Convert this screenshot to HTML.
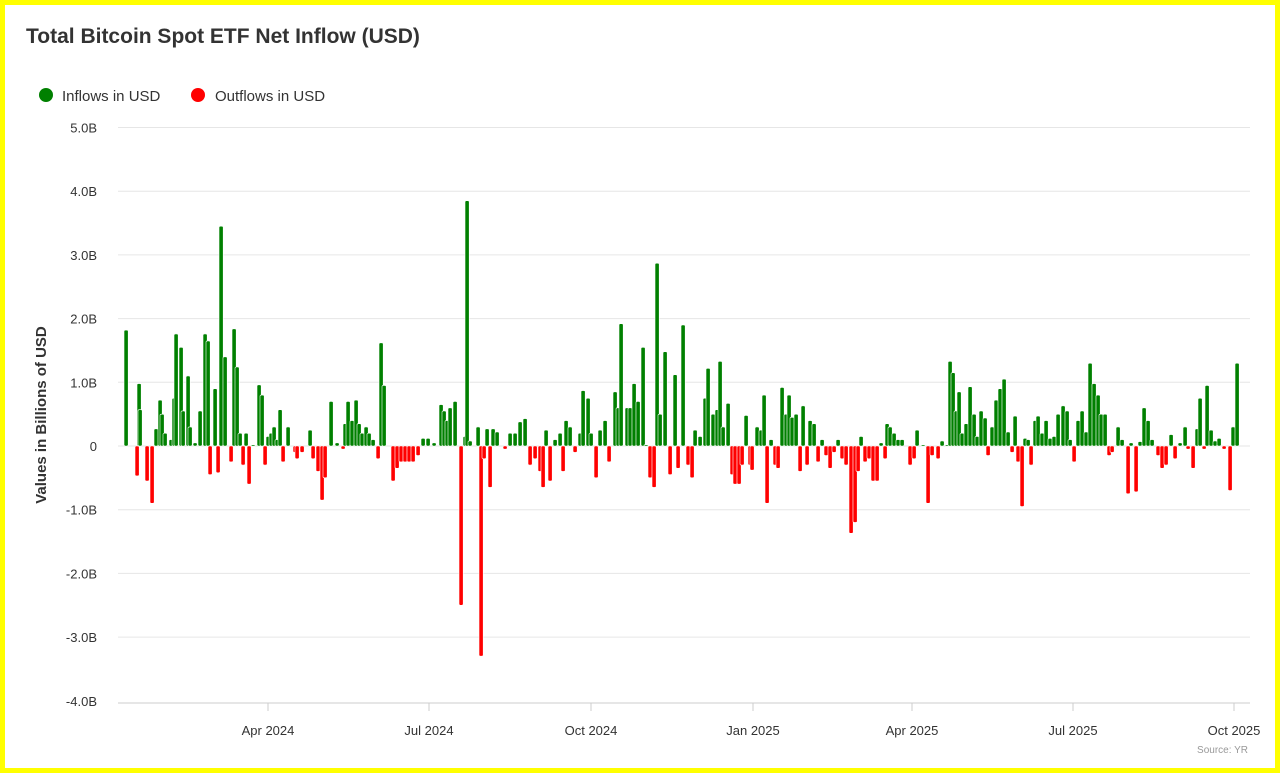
<!DOCTYPE html>
<html><head><meta charset="utf-8"><style>
html,body{margin:0;padding:0;background:#fff;}
body{width:1280px;height:773px;overflow:hidden;font-family:"Liberation Sans",sans-serif;}
.frame{position:absolute;left:0;top:0;width:1270px;height:763px;border:5px solid #ffff00;}
</style></head><body>
<div class="frame"></div>
<svg id="s" width="1280" height="773" style="position:absolute;left:0;top:0" xmlns="http://www.w3.org/2000/svg" font-family="Liberation Sans, sans-serif">
<text x="26" y="43" font-size="21" font-weight="bold" fill="#333">Total Bitcoin Spot ETF Net Inflow (USD)</text>
<circle cx="46" cy="95" r="7" fill="#008000"/>
<text x="62" y="101" font-size="15" fill="#333">Inflows in USD</text>
<circle cx="198" cy="95" r="7" fill="#ff0000"/>
<text x="215" y="101" font-size="15" fill="#333">Outflows in USD</text>
<text transform="translate(46,415) rotate(-90)" text-anchor="middle" font-size="15" font-weight="bold" fill="#333">Values in Billions of USD</text>
<g id="grid"></g><g id="bars"></g>
<line x1="118" y1="703" x2="1250" y2="703" stroke="#ccc"/>
<g font-size="13" fill="#333" text-anchor="middle">
<text x="268" y="735">Apr 2024</text><text x="429" y="735">Jul 2024</text><text x="591" y="735">Oct 2024</text>
<text x="753" y="735">Jan 2025</text><text x="912" y="735">Apr 2025</text><text x="1073" y="735">Jul 2025</text><text x="1234" y="735">Oct 2025</text>
</g>
<g stroke="#ccc"><line x1="268" y1="703" x2="268" y2="711"/><line x1="429" y1="703" x2="429" y2="711"/><line x1="591" y1="703" x2="591" y2="711"/><line x1="753" y1="703" x2="753" y2="711"/><line x1="912" y1="703" x2="912" y2="711"/><line x1="1073" y1="703" x2="1073" y2="711"/><line x1="1234" y1="703" x2="1234" y2="711"/></g>
<text x="1248" y="753" font-size="10" fill="#999" text-anchor="end">Source: YR</text>
</svg>
<script>
var NS="http://www.w3.org/2000/svg";
function el(t,a,p){var e=document.createElementNS(NS,t);for(var k in a)e.setAttribute(k,a[k]);p.appendChild(e);return e;}
var g=document.getElementById('grid'),b=document.getElementById('bars');
function Y(v){return 446-v*63.7;}
for(var v=5;v>=-4;v--){var y=Y(v);if(v>-4)el('line',{x1:118,x2:1250,y1:y,y2:y,stroke:'#e6e6e6'},g);
var t=el('text',{x:97,y:y+5,'font-size':13,fill:'#333','text-anchor':'end'},g);t.textContent=v==0?'0':v.toFixed(1)+'B';}
var d=[126,1.82,137,-0.47,139,0.98,140,0.57,147,-0.55,152,-0.9,156,0.27,160,0.72,162,0.5,165,0.2,171,0.1,174,0.75,176,1.76,181,1.55,183,0.55,188,1.1,190,0.3,195,0.05,200,0.55,205,1.76,208,1.65,210,-0.45,215,0.9,218,-0.42,221,3.45,225,1.4,231,-0.25,234,1.84,237,1.24,240,0.2,243,-0.3,246,0.2,249,-0.6,253,0.02,259,0.96,262,0.8,265,-0.3,268,0.15,271,0.2,274,0.3,277,0.1,280,0.57,283,-0.25,288,0.3,295,-0.1,297,-0.2,302,-0.1,310,0.25,313,-0.2,318,-0.4,322,-0.85,325,-0.5,331,0.7,337,0.05,343,-0.05,345,0.35,348,0.7,352,0.4,356,0.72,359,0.35,362,0.2,366,0.3,369,0.2,373,0.1,378,-0.2,381,1.62,384,0.95,393,-0.55,397,-0.35,401,-0.25,405,-0.25,409,-0.25,413,-0.25,418,-0.15,423,0.12,428,0.12,434,0.05,441,0.65,444,0.55,447,0.4,450,0.6,455,0.7,461,-2.5,465,0.15,467,3.85,470,0.08,478,0.3,481,-3.3,484,-0.2,487,0.27,490,-0.65,493,0.27,497,0.22,505,-0.05,510,0.2,515,0.2,520,0.38,525,0.43,530,-0.3,535,-0.2,540,-0.4,543,-0.65,546,0.25,550,-0.55,555,0.1,560,0.2,563,-0.4,566,0.4,570,0.3,575,-0.1,580,0.2,583,0.87,588,0.75,591,0.2,596,-0.5,600,0.25,605,0.4,609,-0.25,615,0.85,618,0.6,621,1.92,627,0.6,630,0.6,634,0.98,638,0.7,643,1.55,646,0.02,650,-0.5,654,-0.65,657,2.87,660,0.5,665,1.48,670,-0.45,675,1.12,678,-0.35,683,1.9,688,-0.3,692,-0.5,695,0.25,700,0.15,705,0.75,708,1.22,713,0.5,717,0.57,720,1.33,723,0.3,728,0.67,732,-0.45,735,-0.6,739,-0.6,742,-0.3,746,0.48,750,-0.3,752,-0.38,757,0.3,761,0.25,764,0.8,767,-0.9,771,0.1,775,-0.3,778,-0.35,782,0.92,786,0.5,789,0.8,792,0.45,796,0.5,800,-0.4,803,0.63,807,-0.3,810,0.4,814,0.35,818,-0.25,822,0.1,826,-0.15,830,-0.35,834,-0.1,838,0.1,842,-0.2,846,-0.3,851,-1.37,855,-1.2,858,-0.4,861,0.15,865,-0.25,869,-0.2,873,-0.55,877,-0.55,881,0.05,885,-0.2,887,0.35,890,0.3,894,0.2,898,0.1,902,0.1,910,-0.3,914,-0.2,917,0.25,923,0.02,928,-0.9,932,-0.15,938,-0.2,942,0.08,947,0.02,950,1.33,953,1.15,956,0.55,959,0.85,962,0.2,966,0.35,970,0.93,974,0.5,977,0.15,981,0.55,985,0.44,988,-0.15,992,0.3,996,0.72,1000,0.9,1004,1.05,1008,0.22,1012,-0.1,1015,0.47,1018,-0.25,1022,-0.95,1025,0.12,1028,0.1,1031,-0.3,1035,0.4,1038,0.47,1042,0.2,1046,0.4,1050,0.12,1054,0.15,1058,0.5,1063,0.63,1067,0.55,1070,0.1,1074,-0.25,1078,0.4,1082,0.55,1086,0.22,1090,1.3,1094,0.98,1098,0.8,1101,0.5,1105,0.5,1109,-0.15,1112,-0.1,1118,0.3,1122,0.1,1128,-0.75,1131,0.05,1136,-0.72,1140,0.07,1144,0.6,1148,0.4,1152,0.1,1158,-0.15,1162,-0.35,1166,-0.3,1171,0.18,1175,-0.2,1180,0.05,1185,0.3,1188,-0.05,1193,-0.35,1197,0.27,1200,0.75,1204,-0.05,1207,0.95,1211,0.25,1215,0.08,1219,0.12,1224,-0.05,1230,-0.7,1233,0.3,1237,1.3];
for(var i=0;i<d.length;i+=2){var x=d[i],v=d[i+1],y0=Y(0),y1=Y(v);
el('rect',{x:x-2,y:Math.min(y0,y1),width:4.2,height:Math.max(1,Math.abs(y1-y0)),rx:1.2,fill:v>=0?'#008000':'#ff0000',stroke:'#fff','stroke-width':0.6},b);}
</script>
</body></html>
